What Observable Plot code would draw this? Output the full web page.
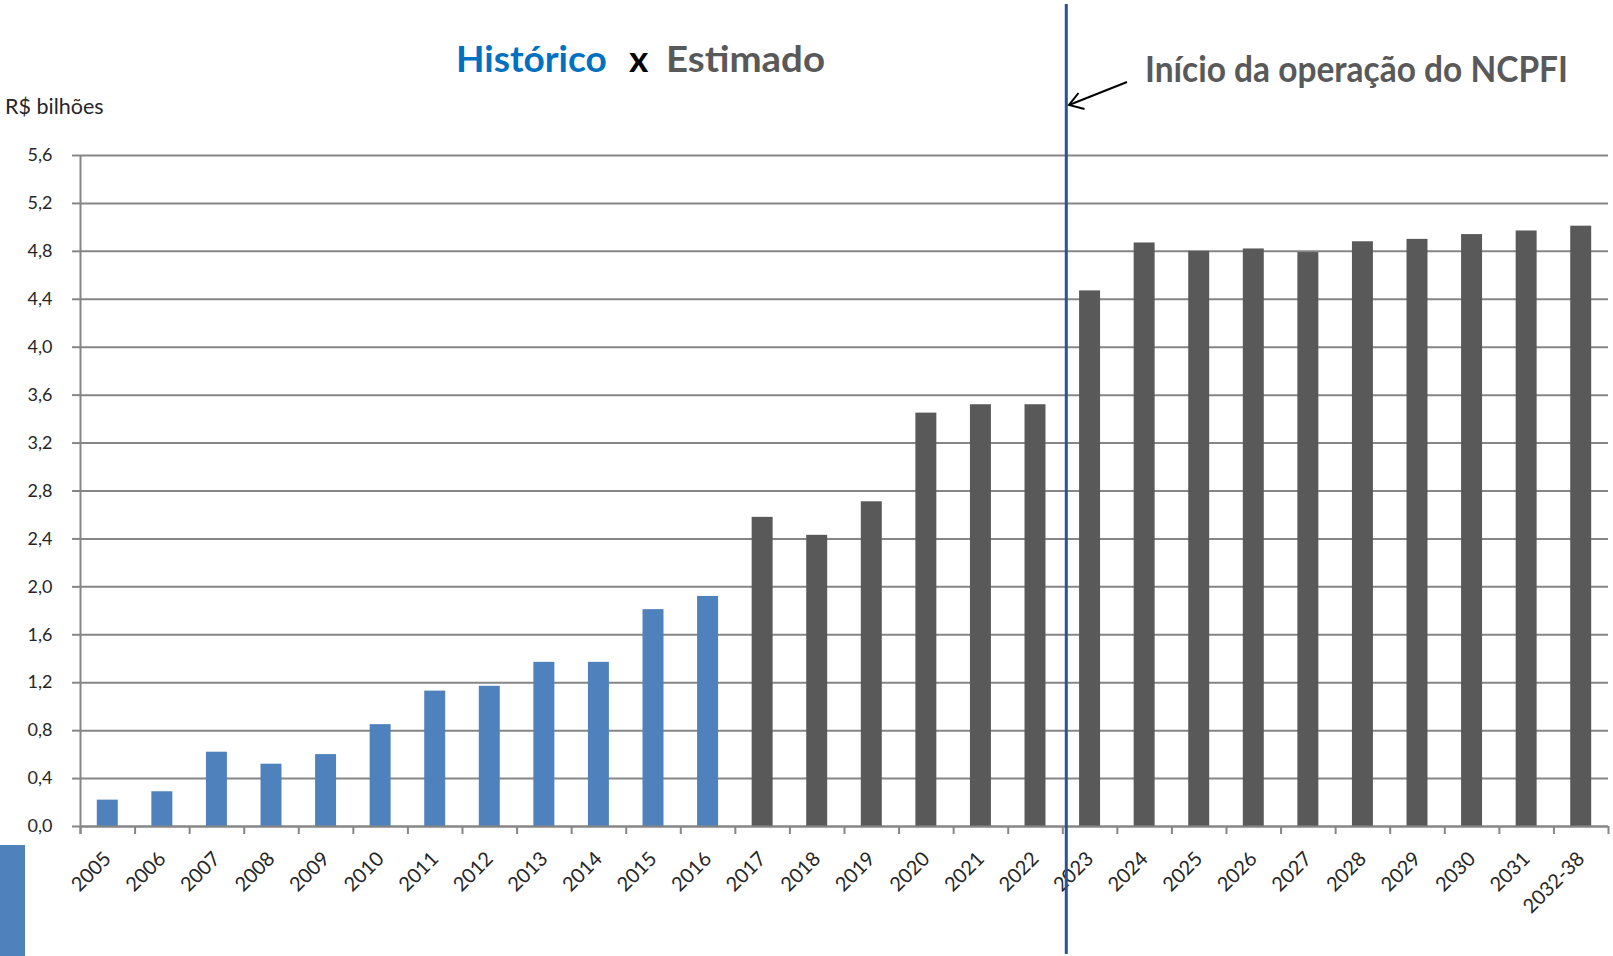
<!DOCTYPE html>
<html>
<head>
<meta charset="utf-8">
<script src="https://cdn.jsdelivr.net/npm/d3@7"></script>
<script src="https://cdn.jsdelivr.net/npm/@observablehq/plot@0.6"></script>
<style>
  html, body { margin: 0; padding: 0; background: #fff; }
  #wrap { position: relative; width: 1613px; height: 956px; overflow: hidden; }
  #overlay { position: absolute; left: 0; top: 0; pointer-events: none; }
  #swatch { position: absolute; left: 0; top: 845px; width: 25px; height: 111px; background: #4f81bd; }
</style>
</head>
<body>
<div id="wrap">
  <div id="swatch"></div>
  <svg id="overlay" width="1613" height="956" xmlns="http://www.w3.org/2000/svg">
    <text y="72" font-family="Lato, 'Open Sans', sans-serif" font-weight="bold" font-size="37">
      <tspan x="456" fill="#0070c0">Histórico</tspan>
      <tspan x="629" fill="#000000">x</tspan>
      <tspan x="666" fill="#595959" textLength="159" lengthAdjust="spacingAndGlyphs">Estimado</tspan>
    </text>
    <text x="1145" y="82" font-family="Lato, 'Open Sans', sans-serif" font-weight="bold" font-size="36" fill="#595959" textLength="423" lengthAdjust="spacingAndGlyphs">Início da operação do NCPFI</text>
    <text x="5" y="114" font-family="Lato, 'Open Sans', sans-serif" font-size="21.5" fill="#262626">R$ bilhões</text>
    <line x1="1127" y1="82" x2="1069" y2="105" stroke="#000" stroke-width="2"/>
    <polyline points="1078.5,93 1069,105 1084.5,109" fill="none" stroke="#000" stroke-width="2"/>
  </svg>
</div>
<script>
// ---- data ----
const categories = ["2005","2006","2007","2008","2009","2010","2011","2012","2013","2014","2015","2016",
  "2017","2018","2019","2020","2021","2022","2023","2024","2025","2026","2027","2028","2029","2030","2031","2032-38"];
const values = [0.22,0.29,0.62,0.52,0.60,0.85,1.13,1.17,1.37,1.37,1.81,1.92,
  2.58,2.43,2.71,3.45,3.52,3.52,4.47,4.87,4.80,4.82,4.79,4.88,4.90,4.94,4.97,5.01];
const seriesNames = ["Histórico","Estimado"];
const seriesOf = ["Histórico","Histórico","Histórico","Histórico","Histórico","Histórico","Histórico","Histórico","Histórico","Histórico","Histórico","Histórico",
  "Estimado","Estimado","Estimado","Estimado","Estimado","Estimado","Estimado","Estimado","Estimado","Estimado","Estimado","Estimado","Estimado","Estimado","Estimado","Estimado"];
const yTicks = [0,0.4,0.8,1.2,1.6,2.0,2.4,2.8,3.2,3.6,4.0,4.4,4.8,5.2,5.6];
const operationStart = "2023";

// ---- build ----
const N = categories.length;
const data = categories.map((c, i) => ({year: c, value: values[i], series: seriesOf[i], i0: i, i1: i + 1, mid: i + 0.5}));
const boundary = categories.indexOf(operationStart);
const fmt = d => d.toFixed(1).replace(".", ",");
const grid = "#868686";

const chart = Plot.plot({
  width: 1613,
  height: 956,
  marginTop: 155,
  marginBottom: 130,
  marginLeft: 80,
  marginRight: 5,
  style: {fontFamily: "Lato, 'Open Sans', sans-serif", color: "#262626", background: "transparent"},
  x: {domain: [0, N], axis: null},
  y: {domain: [0, 5.6], axis: null},
  color: {domain: seriesNames, range: ["#4f81bd", "#595959"]},
  marks: [
    Plot.gridY(yTicks, {stroke: grid, strokeOpacity: 1, strokeWidth: 2}),
    Plot.axisY(yTicks, {tickSize: 8, tickPadding: 20, stroke: grid, strokeWidth: 2, tickFormat: fmt, fontSize: 18, label: null}),
    Plot.rectY(data, {x1: "i0", x2: "i1", y: "value", fill: "series", insetLeft: 16.8, insetRight: 16.8}),
    Plot.ruleY([0], {stroke: grid, strokeWidth: 2}),
    Plot.ruleX([0], {stroke: grid, strokeWidth: 2, insetBottom: -8}),
    Plot.axisX(d3.range(N + 1), {tickSize: 8, tickFormat: () => "", stroke: grid, strokeWidth: 2, label: null}),
    Plot.text(data, {x: "mid", y: () => 0, text: "year", rotate: -45, textAnchor: "end", dy: 29, fontSize: 20, fill: "#262626"}),
    Plot.ruleX([boundary], {stroke: "#2b5393", strokeWidth: 3, dx: 3.5, insetTop: -151, insetBottom: -128})
  ]
});
const wrap = document.getElementById("wrap");
wrap.insertBefore(chart, document.getElementById("overlay"));
</script>
</body>
</html>
